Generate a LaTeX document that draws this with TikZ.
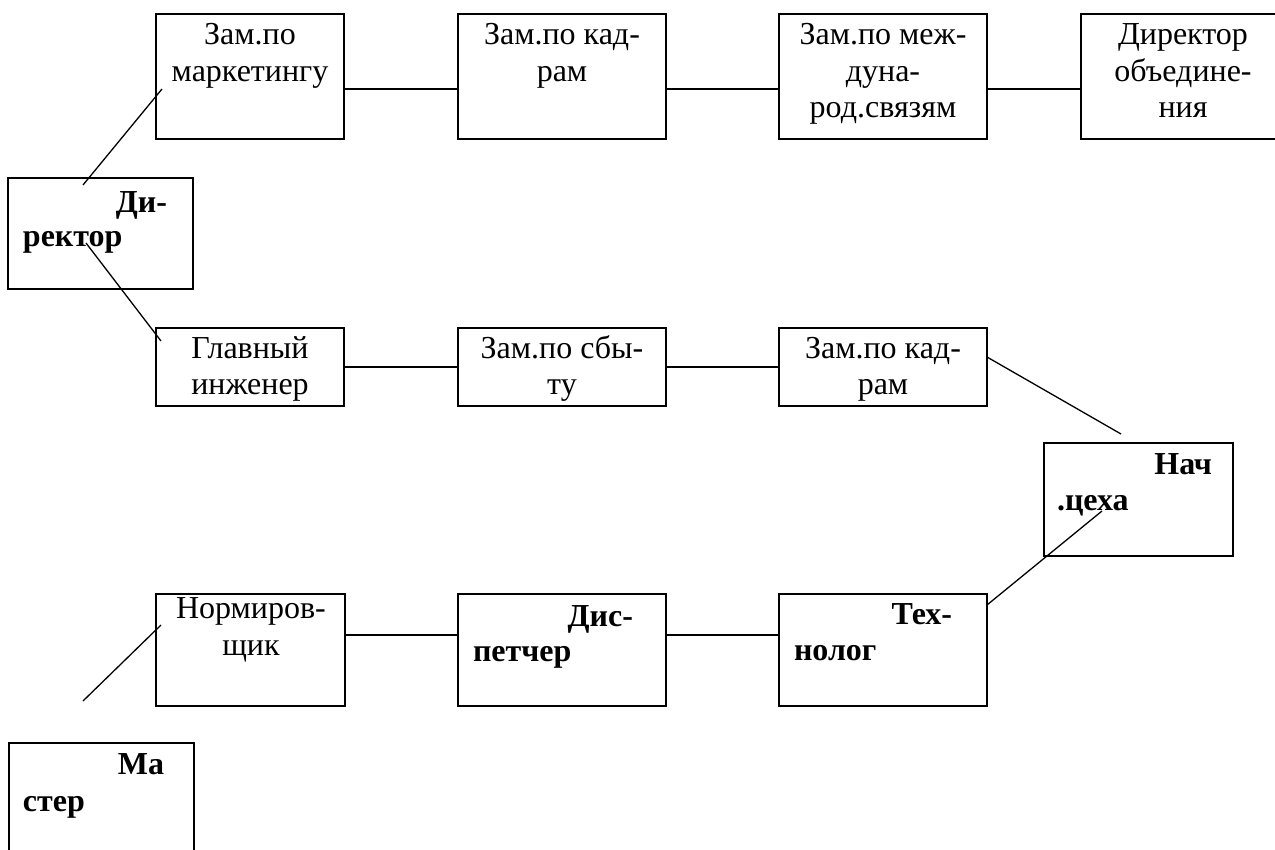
\documentclass[tikz,border=0pt]{standalone}
\usepackage{fontspec}
\setmainfont{Liberation Serif}
\begin{document}
\begin{tikzpicture}[x=1pt,y=-1pt,
  box/.style={draw=black, line width=1.6pt, rectangle, inner sep=0pt, outer sep=0pt},
  conn/.style={draw=black, line width=1.3pt},
  txt/.style={inner sep=0pt, outer sep=0pt, font=\fontsize{32}{36}\selectfont},
  btxt/.style={inner sep=0pt, outer sep=0pt, font=\fontsize{32}{36}\selectfont\bfseries}]
\useasboundingbox (0,0) rectangle (1275,850);
\clip (0,0) rectangle (1275,850);
% row 1
\node[box, minimum width=188pt, minimum height=125pt] (m1) at (250,76.5) {};
\node[box, minimum width=208pt, minimum height=125pt] (m2) at (562,76.5) {};
\node[box, minimum width=208pt, minimum height=125pt] (m3) at (883,76.5) {};
\node[box, minimum width=204pt, minimum height=125pt] (m4) at (1183,76.5) {};
% director
\node[box, minimum width=185pt, minimum height=111pt] (d) at (100.5,233.5) {};
% row 2
\node[box, minimum width=188pt, minimum height=78pt] (g1) at (250,367) {};
\node[box, minimum width=208pt, minimum height=78pt] (g2) at (562,367) {};
\node[box, minimum width=208pt, minimum height=78pt] (g3) at (883,367) {};
% nach cekha
\node[box, minimum width=189pt, minimum height=113pt] (n) at (1138.5,499.5) {};
% row 3
\node[box, minimum width=189pt, minimum height=112pt] (r1) at (250.5,650) {};
\node[box, minimum width=208pt, minimum height=112pt] (r2) at (562,650) {};
\node[box, minimum width=208pt, minimum height=112pt] (r3) at (883,650) {};
% master
\node[box, minimum width=185pt, minimum height=117pt] (ms) at (101.5,801.5) {};

% texts row 1
\node[txt, anchor=base] (t1a) at (250,45) {Зам.по};
\node[txt, anchor=base] (t1b) at (250,81.5) {маркетингу};
\node[txt, anchor=base] (t2a) at (562,45) {Зам.по кад-};
\node[txt, anchor=base] (t2b) at (562,81.5) {рам};
\node[txt, anchor=base] (t3a) at (883,45) {Зам.по меж-};
\node[txt, anchor=base] (t3b) at (883,81.5) {дуна-};
\node[txt, anchor=base] (t3c) at (883,118) {род.связям};
\node[txt, anchor=base] (t4a) at (1183,45) {Директор};
\node[txt, anchor=base] (t4b) at (1183,81.5) {объедине-};
\node[txt, anchor=base] (t4c) at (1183,118) {ния};
% director text
\node[btxt, anchor=base east] (tda) at (167,213) {Ди-};
\node[btxt, anchor=base west] (tdb) at (23,247) {ректор};
% row 2 texts
\node[txt, anchor=base] (g1a) at (250,359) {Главный};
\node[txt, anchor=base] (g1b) at (250,395) {инженер};
\node[txt, anchor=base] (g2a) at (562,359) {Зам.по сбы-};
\node[txt, anchor=base] (g2b) at (562,395) {ту};
\node[txt, anchor=base] (g3a) at (883,359) {Зам.по кад-};
\node[txt, anchor=base] (g3b) at (883,395) {рам};
% nach cekha text
\node[btxt, anchor=base east] (tna) at (1212,474) {Нач};
\node[btxt, anchor=base west] (tnb) at (1057,510) {.цеха};
% row 3 texts
\node[txt, anchor=base] (r1a) at (251,618) {Нормиров-};
\node[txt, anchor=base] (r1b) at (251,655) {щик};
\node[btxt, anchor=base east] (r2a) at (633,626) {Дис-};
\node[btxt, anchor=base west] (r2b) at (473,661) {петчер};
\node[btxt, anchor=base east] (r3a) at (952,624) {Тех-};
\node[btxt, anchor=base west] (r3b) at (794,660) {нолог};
% master text
\node[btxt, anchor=base east] (tma) at (164,774) {Ма};
\node[btxt, anchor=base west] (tmb) at (23,811) {стер};

% horizontal connectors
\coordinate (L1) at (0,89);
\coordinate (L2) at (0,367);
\coordinate (L3) at (0,635);
\draw[conn] (m1.east |- L1) -- (m2.west |- L1);
\draw[conn] (m2.east |- L1) -- (m3.west |- L1);
\draw[conn] (m3.east |- L1) -- (m4.west |- L1);
\draw[conn] (g1.east |- L2) -- (g2.west |- L2);
\draw[conn] (g2.east |- L2) -- (g3.west |- L2);
\draw[conn] (r1.east |- L3) -- (r2.west |- L3);
\draw[conn] (r2.east |- L3) -- (r3.west |- L3);

% diagonal connectors
\coordinate (d1a) at (83,185);
\coordinate (d1b) at (162,89);
\coordinate (d2a) at (86,243);
\coordinate (d2b) at (161,341);
\coordinate (d3a) at (987,357);
\coordinate (d3b) at (1121,434);
\coordinate (d4a) at (1102,511);
\coordinate (d4b) at (987,605);
\coordinate (d5a) at (161,625);
\coordinate (d5b) at (83,701);
\draw[conn] (d1a) -- (d1b);
\draw[conn] (d2a) -- (d2b);
\draw[conn] (d3a) -- (d3b);
\draw[conn] (d4a) -- (d4b);
\draw[conn] (d5a) -- (d5b);
\end{tikzpicture}
\end{document}
